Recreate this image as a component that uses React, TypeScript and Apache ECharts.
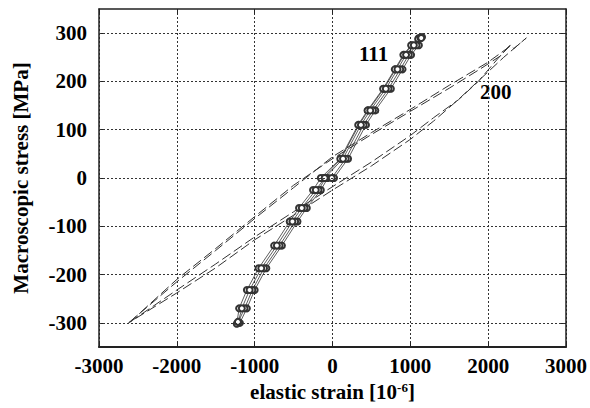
import React, { useEffect, useRef } from "react";
import * as echarts from "echarts";

const X_TICKS = [-3000, -2000, -1000, 0, 1000, 2000, 3000];
const Y_TICKS = [-300, -200, -100, 0, 100, 200, 300];

// {111} grain family: elastic strain vs macroscopic stress (several load reversals)
const S111_UP_1 = [[-120, 0], [110, 40], [340, 110], [460, 140], [660, 185], [810, 225], [920, 255], [1020, 275], [1110, 290]];
const S111_DOWN_1 = [[1150, 292], [1110, 275], [1010, 255], [900, 225], [750, 185], [550, 140], [430, 110], [200, 40], [20, 0], [-60, 0], [-150, -25], [-330, -62], [-450, -90], [-650, -140], [-850, -187], [-1000, -232], [-1100, -270], [-1190, -300]];
const S111_UP_2 = [[-1230, -302], [-1200, -270], [-1100, -232], [-950, -187], [-750, -140], [-550, -90], [-430, -62], [-250, -25], [-150, 0], [100, 40], [330, 110], [450, 140], [650, 185], [800, 225], [910, 255], [1010, 275], [1100, 288]];
const S111_DOWN_2 = [[1130, 290], [1080, 275], [980, 255], [870, 225], [720, 185], [520, 140], [400, 110], [170, 40], [-10, 0], [-90, 0], [-180, -25], [-360, -62], [-480, -90], [-680, -140], [-880, -187], [-1030, -232], [-1130, -270], [-1210, -298]];
const S111_UP_3 = [[-1215, -298], [-1165, -270], [-1065, -232], [-915, -187], [-715, -140], [-515, -90], [-395, -62], [-215, -25], [-100, 0], [135, 40], [365, 110], [485, 140], [685, 185], [835, 225], [945, 255], [1045, 275], [1140, 290]];

// {200} grain family: two hysteresis loops (dashed)
const S200_A_UPPER = [[-2620, -300], [-2000, -215], [-1500, -150], [-1000, -84], [-500, -20], [0, 44], [500, 94], [1000, 142], [1500, 192], [2000, 240], [2290, 274], [2330, 268], [2490, 290]];
const S200_A_LOWER = [[2490, 290], [2200, 250], [1900, 205], [1600, 160], [1300, 118], [1000, 80], [500, 25], [0, -25], [-500, -77], [-1000, -128], [-1500, -186], [-2000, -238], [-2620, -300]];
const S200_B_UPPER = [[-2600, -298], [-2000, -210], [-1500, -146], [-1000, -80], [-500, -15], [0, 40], [500, 90], [1000, 138], [1500, 186], [1900, 226], [2150, 252], [2300, 278]];
const S200_B_LOWER = [[2300, 278], [2128, 248], [1873, 200], [1618, 162], [1300, 125], [1000, 88], [500, 33], [0, -18], [-500, -70], [-1000, -122], [-1500, -178], [-2000, -232], [-2600, -298]];

const FONT = "'Liberation Serif', 'Times New Roman', serif";

export default function App() {
  const ref = useRef<HTMLDivElement>(null);
  useEffect(() => {
    if (!ref.current) return;
    const chart = echarts.init(ref.current, null, { renderer: "svg" });
    const gridLine = { color: "#333", width: 1, type: [2, 2] as number[] };
    const frame = { show: true, onZero: false, lineStyle: { color: "#222", width: 1.5 } };
    const s111 = [...S111_UP_1, ...S111_DOWN_1, ...S111_UP_2, ...S111_DOWN_2, ...S111_UP_3];
    chart.setOption({
      animation: false,
      backgroundColor: "#fff",
      textStyle: { fontFamily: FONT },
      grid: { left: 99, right: 22, top: 9, bottom: 61 },
      xAxis: [
        {
          type: "value", min: X_TICKS[0], max: X_TICKS[X_TICKS.length - 1], interval: 1000, position: "bottom",
          axisLine: { ...frame, lineStyle: { color: "#222", width: 2 } },
          axisTick: { show: true, inside: true, length: 5, lineStyle: { color: "#222" } },
          axisLabel: { margin: 8, fontSize: 21, fontWeight: "bold", color: "#000", fontFamily: FONT, formatter: (v: number) => String(v) },
          splitLine: { show: true, lineStyle: gridLine },
          name: "{a|elastic strain [10}{s|-6}{a|]}",
          nameLocation: "middle", nameGap: 33,
          nameTextStyle: {
            rich: {
              a: { fontSize: 21, fontWeight: "bold", fontFamily: FONT, color: "#000", lineHeight: 24 },
              s: { fontSize: 13, fontWeight: "bold", fontFamily: FONT, color: "#000", padding: [0, 0, 10, 0] },
            },
          },
        },
        {
          type: "value", min: X_TICKS[0], max: X_TICKS[X_TICKS.length - 1], interval: 1000, position: "top",
          axisLine: frame,
          axisTick: { show: true, inside: true, length: 5, lineStyle: { color: "#222" } },
          axisLabel: { show: false },
          splitLine: { show: false },
        },
      ],
      yAxis: [
        {
          type: "value", min: -350, max: 350, interval: 50, position: "left",
          axisLine: frame,
          axisTick: { show: true, inside: true, length: 5, customValues: Y_TICKS, lineStyle: { color: "#222" } },
          axisLabel: { margin: 12, fontSize: 21, fontWeight: "bold", color: "#000", fontFamily: FONT, customValues: Y_TICKS, formatter: (v: number) => String(v) },
          splitLine: { show: false },
          name: "Macroscopic stress [MPa]",
          nameLocation: "middle", nameGap: 68,
          nameTextStyle: { fontSize: 21, fontWeight: "bold", color: "#000", fontFamily: FONT },
        },
        {
          type: "value", min: -350, max: 350, interval: 50, position: "right",
          axisLine: frame,
          axisTick: { show: true, inside: true, length: 5, customValues: Y_TICKS, lineStyle: { color: "#222" } },
          axisLabel: { show: false },
          splitLine: { show: false },
        },
      ],
      graphic: [
        { type: "text", left: 359, top: 43, style: { text: "111", font: `bold 21px ${FONT}`, fill: "#000" } },
        { type: "text", left: 480, top: 81, style: { text: "200", font: `bold 21px ${FONT}`, fill: "#000" } },
      ],
      series: [
        {
          name: "grid", type: "line", data: [], silent: true,
          markLine: {
            silent: true, symbol: "none", label: { show: false },
            lineStyle: gridLine,
            data: Y_TICKS.map((v) => ({ yAxis: v })),
          },
        },
        ...[
          [...S200_A_UPPER, ...S200_A_LOWER],
          [...S200_B_UPPER, ...S200_B_LOWER],
        ].map((d) => ({
          type: "line", data: d, showSymbol: false, symbol: "none",
          lineStyle: { color: "#333", width: 1, type: [10, 4] },
        })),
        {
          type: "line", data: s111, symbol: "emptyCircle", symbolSize: 6, showSymbol: true,
          itemStyle: { color: "#333", borderColor: "#333", borderWidth: 0.8 },
          lineStyle: { color: "#333", width: 0.8 },
        },
      ],
    });
    return () => chart.dispose();
  }, []);
  return <div ref={ref} style={{ position: "fixed", left: 0, top: 0, width: 590, height: 408 }} />;
}
